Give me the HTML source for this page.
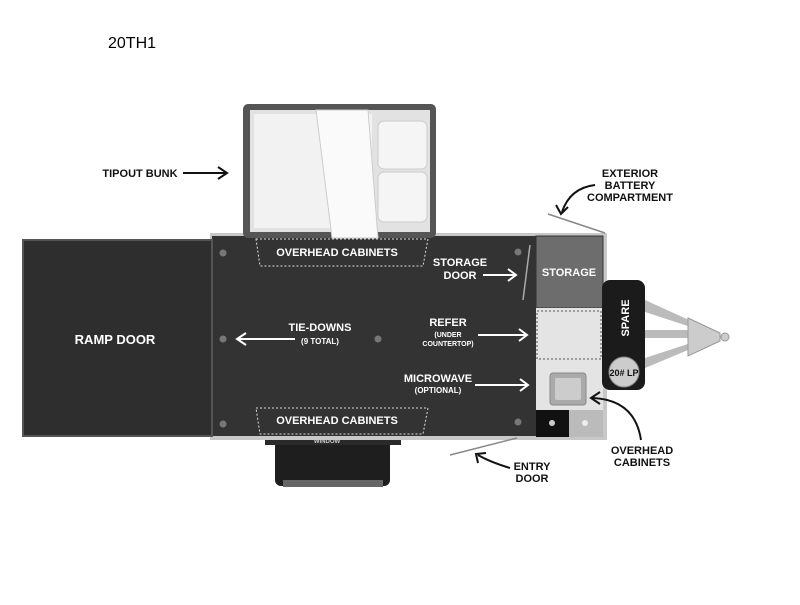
<!DOCTYPE html>
<html><head><style>
body{margin:0;width:800px;height:600px;background:#fff;overflow:hidden;font-family:"Liberation Sans",sans-serif}
</style></head><body>
<svg width="800" height="600" viewBox="0 0 800 600" xmlns="http://www.w3.org/2000/svg" font-family="Liberation Sans, sans-serif" font-weight="bold">
<text x="108" y="48" font-size="16" font-weight="normal" fill="#000">20TH1</text>
<!-- hitch -->
<polygon points="645,300 700,325 700,330 645,312" fill="#bbb"/>
<polygon points="645,368 700,345 700,340 645,358" fill="#bbb"/>
<rect x="645" y="330" width="45" height="8" fill="#bbb"/>
<polygon points="688,318 720,333 720,341 688,356" fill="#ccc" stroke="#999"/>
<circle cx="725" cy="337" r="4" fill="#ccc" stroke="#999"/>
<!-- bottom tire -->
<rect x="275" y="440" width="115" height="46" rx="6" fill="#1e1e1e"/>
<rect x="283" y="480" width="100" height="7" fill="#666"/>
<rect x="265" y="435" width="136" height="10" fill="#2a2a2a"/>
<text x="327" y="443" font-size="6" fill="#ccc" text-anchor="middle">WINDOW</text>
<!-- body frame -->
<rect x="210" y="233" width="397" height="207" fill="#c8c8c8"/>
<rect x="212" y="236" width="324" height="200" fill="#333"/>
<!-- ramp -->
<rect x="23" y="240" width="189" height="196" fill="#2e2e2e" stroke="#555" stroke-width="2"/>
<!-- bunk -->
<rect x="243" y="104" width="193" height="134" rx="5" fill="#555"/>
<rect x="250" y="110" width="180" height="122" fill="#e2e2e2"/>
<rect x="254" y="114" width="118" height="114" fill="#f2f2f2"/>
<polygon points="316,110 368,110 378,238 332,238" fill="#fafafa" stroke="#ccc"/>
<rect x="378" y="121" width="49" height="48" rx="6" fill="#f5f5f5" stroke="#ccc"/>
<rect x="378" y="172" width="49" height="50" rx="6" fill="#f5f5f5" stroke="#ccc"/>
<!-- kitchen -->
<rect x="536" y="236" width="67" height="72" fill="#6d6d6d" stroke="#333"/>
<text x="569" y="276" font-size="11" fill="#fff" text-anchor="middle">STORAGE</text>
<rect x="536" y="308" width="67" height="102" fill="#e4e4e4"/>
<rect x="537" y="311" width="64" height="48" fill="none" stroke="#555" stroke-dasharray="2,2"/>
<rect x="550" y="373" width="36" height="32" rx="3" fill="#aaa" stroke="#888"/>
<rect x="555" y="378" width="26" height="22" rx="2" fill="#ccc"/>
<rect x="536" y="410" width="33" height="27" fill="#111"/>
<rect x="569" y="410" width="34" height="27" fill="#bbb"/>
<circle cx="552" cy="423" r="3" fill="#ccc"/><circle cx="585" cy="423" r="3" fill="#eee"/>
<line x1="530" y1="245" x2="523" y2="300" stroke="#aaa" stroke-width="1.5"/>
<!-- spare -->
<rect x="602" y="280" width="43" height="110" rx="8" fill="#1b1b1b"/>
<text x="629" y="318" font-size="11" fill="#fff" text-anchor="middle" transform="rotate(-90 629 318)" dy="0">SPARE</text>
<circle cx="624" cy="372" r="15" fill="#ccc" stroke="#888"/>
<text x="624" y="376" font-size="9" fill="#111" text-anchor="middle">20# LP</text>
<!-- dashed cabinets -->
<polygon points="256,239 428,239 423,266 260,266" fill="none" stroke="#ddd" stroke-dasharray="2,2"/>
<polygon points="256,408 428,408 423,434 260,434" fill="none" stroke="#ddd" stroke-dasharray="2,2"/>
<g fill="#777"><circle cx="223" cy="253" r="3.5"/><circle cx="223" cy="339" r="3.5"/><circle cx="223" cy="424" r="3.5"/><circle cx="378" cy="339" r="3.5"/><circle cx="518" cy="252" r="3.5"/><circle cx="518" cy="422" r="3.5"/></g>
<g fill="#fff" text-anchor="middle">
<text x="337" y="256" font-size="11">OVERHEAD CABINETS</text>
<text x="337" y="424" font-size="11">OVERHEAD CABINETS</text>
<text x="115" y="344" font-size="13">RAMP DOOR</text>
<text x="320" y="331" font-size="11">TIE-DOWNS</text>
<text x="320" y="344" font-size="8">(9 TOTAL)</text>
<text x="460" y="266" font-size="11">STORAGE</text>
<text x="460" y="279" font-size="11">DOOR</text>
<text x="448" y="326" font-size="11">REFER</text>
<text x="448" y="337" font-size="7">(UNDER</text>
<text x="448" y="346" font-size="7">COUNTERTOP)</text>
<text x="438" y="382" font-size="11">MICROWAVE</text>
<text x="438" y="393" font-size="8">(OPTIONAL)</text>
</g>
<g stroke="#fff" stroke-width="2" fill="none">
<line x1="295" y1="339" x2="238" y2="339"/><polyline points="246,333 237,339 246,345"/>
<line x1="483" y1="275" x2="515" y2="275"/><polyline points="508,269 516,275 508,281"/>
<line x1="478" y1="335" x2="526" y2="335"/><polyline points="519,329 527,335 519,341"/>
<line x1="475" y1="385" x2="527" y2="385"/><polyline points="520,379 528,385 520,391"/>
</g>
<!-- outside labels -->
<g fill="#111" text-anchor="middle" font-size="11">
<text x="140" y="177">TIPOUT BUNK</text>
<text x="630" y="177">EXTERIOR</text>
<text x="630" y="189">BATTERY</text>
<text x="630" y="201">COMPARTMENT</text>
<text x="642" y="454">OVERHEAD</text>
<text x="642" y="466">CABINETS</text>
<text x="532" y="470">ENTRY</text>
<text x="532" y="482">DOOR</text>
</g>
<g stroke="#111" stroke-width="2" fill="none">
<line x1="183" y1="173" x2="225" y2="173"/><polyline points="218,167 227,173 218,179"/>
<path d="M595,185 Q570,188 562,212"/><polyline points="556,205 561,214 568,207"/>
<path d="M641,440 Q635,400 593,398"/><polyline points="600,392 591,398 600,404"/>
<path d="M510,468 Q490,462 478,455"/><polyline points="478,463 476,454 486,453"/>
</g>
<line x1="548" y1="214" x2="605" y2="233" stroke="#888" stroke-width="1.5"/>
<line x1="450" y1="455" x2="517" y2="438" stroke="#888" stroke-width="1.5"/>
</svg>
</body></html>
